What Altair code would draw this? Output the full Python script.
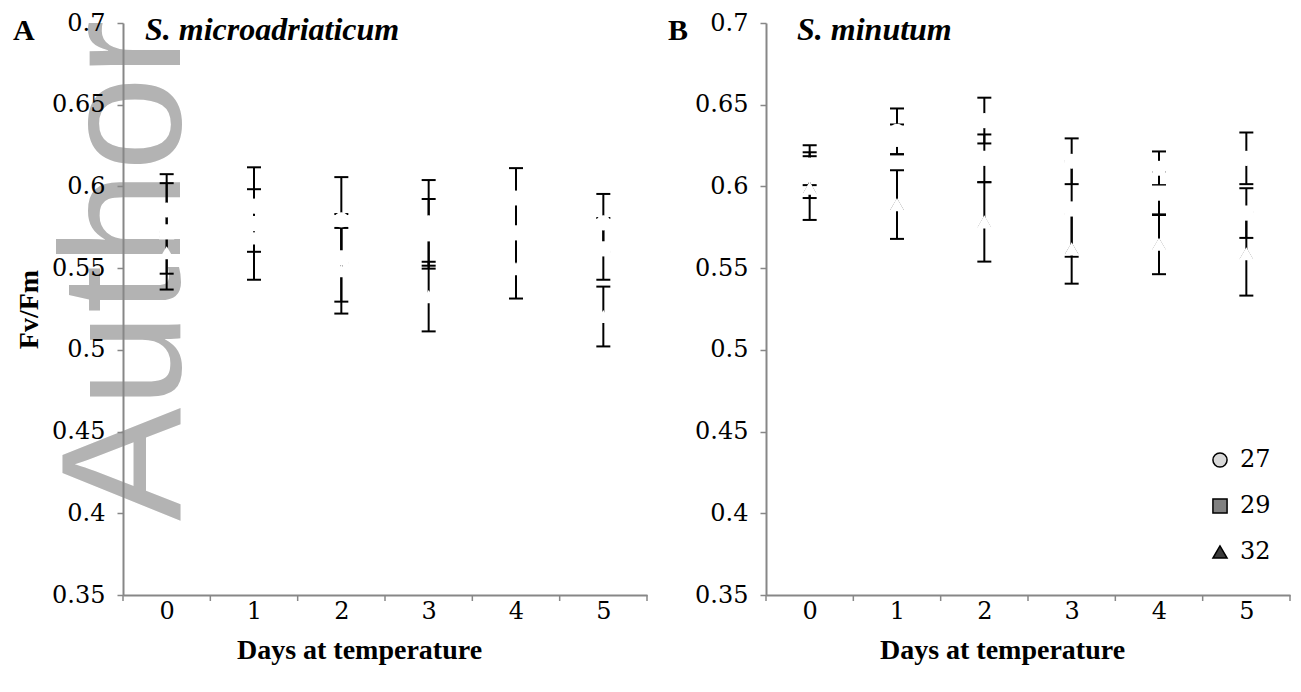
import altair as alt
import pandas as pd

DAYS = [0, 1, 2, 3, 4, 5]
BOUNDS = [-0.5, 0.5, 1.5, 2.5, 3.5, 4.5, 5.5]
Y_TICKS = [0.35, 0.4, 0.45, 0.5, 0.55, 0.6, 0.65, 0.7]
SERIES = ["27", "29", "32"]
SHAPES = ["circle", "square", "triangle-up"]
LEGEND_FILLS = ["#d9d9d9", "#808080", "#3a3a3a"]

# Panel A: S. microadriaticum (mean Fv/Fm and error per day)
A_27 = [0.5856, 0.5880, 0.5795, 0.5777, 0.5929, 0.5777]
A_27_ERR = [0.0164, 0.0103, 0.0262, 0.0262, 0.0183, 0.0177]
A_29 = [0.5722, 0.5773, 0.5563, 0.5710, 0.5716, 0.5618]
A_29_ERR = [0.0353, 0.0344, 0.0268, 0.0213, 0.0024, 0.0189]
A_32 = [0.5594, 0.5685, 0.5484, 0.5326, 0.5497, 0.5204]
A_32_ERR = [0.0128, 0.0085, 0.0262, 0.0213, 0.0183, 0.0183]

# Panel B: S. minutum
B_27 = [0.6130, 0.6337, 0.6403, 0.6154, 0.6111, 0.6172]
B_27_ERR = [0.0122, 0.0140, 0.0140, 0.0140, 0.0103, 0.0158]
B_29 = [0.6069, 0.6288, 0.6172, 0.5862, 0.5959, 0.5837]
B_29_ERR = [0.0140, 0.0091, 0.0146, 0.0292, 0.0134, 0.0152]
B_32 = [0.5990, 0.5889, 0.5783, 0.5618, 0.5646, 0.5588]
B_32_ERR = [0.0195, 0.0210, 0.0243, 0.0213, 0.0183, 0.0256]

W, H = 524, 572
SERIF = "Liberation Serif"
WIDE_SERIF = "DejaVu Serif"
GRAY = "#878787"


def make_df(means, errs):
    rows = []
    for s, shp, m_list, e_list in zip(SERIES, SHAPES, means, errs):
        for d, m, e in zip(DAYS, m_list, e_list):
            rows.append({"day": d, "series": s, "shp": shp, "mean": m,
                         "lo": m - e, "hi": m + e})
    return pd.DataFrame(rows)


def panel(df, letter, letter_x, title, title_x, y_title, watermark, legend):
    xs = alt.Scale(domain=[-0.5, 5.5], nice=False, zero=False)
    ys = alt.Scale(domain=[0.35, 0.7], nice=False, zero=False)
    font_kw = dict(labelFont=WIDE_SERIF, labelFontSize=24,
                   labelColor="black",
                   titleFont=SERIF, titleFontSize=28, titleFontWeight="bold",
                   titleColor="black", domainColor=GRAY, domainWidth=2,
                   tickColor=GRAY, tickWidth=1.5, grid=False, zindex=1)
    x_axis = alt.Axis(values=DAYS, ticks=False, title="Days at temperature",
                      labelPadding=4, titleX=236, titleY=63,
                      titleBaseline="alphabetic", titleAlign="center",
                      **font_kw)
    y_axis_kw = dict(values=Y_TICKS, format="~g", tickSize=6,
                     labelPadding=12, **font_kw)
    if y_title:
        y_axis = alt.Axis(title=y_title, titlePadding=8, **y_axis_kw)
    else:
        y_axis = alt.Axis(title=None, **y_axis_kw)

    def X(f):
        return alt.X(f, scale=xs, axis=x_axis)

    def Y(f):
        return alt.Y(f, scale=ys, axis=y_axis)

    layers = []
    if watermark:
        layers.append(
            alt.Chart(pd.DataFrame({"t": ["Author"]})).mark_text(
                text="Author", font="Liberation Sans", fontSize=170,
                angle=270, align="left", baseline="alphabetic",
                color="#b3b3b3"
            ).encode(x=alt.value(57), y=alt.value(498))
        )

    bdf = pd.DataFrame({"b": BOUNDS})
    layers.append(
        alt.Chart(bdf).mark_rule(color=GRAY, strokeWidth=1.5).encode(
            x=X("b:Q"), y=alt.value(H), y2=alt.value(H + 6)
        )
    )

    base = alt.Chart(df)
    if legend:
        leg = alt.Legend(orient="none", legendX=442, legendY=425,
                         title=None, labelFont=WIDE_SERIF, labelFontSize=24,
                         labelColor="black", symbolSize=200, rowPadding=22,
                         padding=0, labelOffset=8)
        layers.append(
            base.mark_point(filled=False, size=120, stroke="black",
                            strokeWidth=1.5, opacity=1).encode(
                x=X("day:Q"), y=Y("mean:Q"),
                shape=alt.Shape("series:N",
                                scale=alt.Scale(domain=SERIES, range=SHAPES),
                                legend=leg),
                fill=alt.Fill("series:N",
                              scale=alt.Scale(domain=SERIES,
                                              range=LEGEND_FILLS),
                              legend=leg),
            )
        )

    layers.append(
        base.mark_rule(color="black", strokeWidth=2).encode(
            x=X("day:Q"), y=Y("lo:Q"), y2="hi:Q",
        )
    )
    for fld in ["lo", "hi"]:
        layers.append(
            base.mark_rule(color="black", strokeWidth=2, xOffset=-7,
                           x2Offset=7).encode(
                x=X("day:Q"), x2="day:Q", y=Y(f"{fld}:Q"),
            )
        )
    layers.append(
        base.mark_point(filled=True, color="white", size=230, opacity=1,
                        strokeWidth=0).encode(
            x=X("day:Q"), y=Y("mean:Q"),
            shape=alt.Shape("shp:N", scale=None),
        )
    )
    tdf = pd.DataFrame({"t": [title]})
    layers.append(
        alt.Chart(tdf).mark_text(text=title, font=SERIF, fontSize=32,
                                 fontWeight="bold", fontStyle="italic",
                                 align="left", baseline="alphabetic",
                                 color="black").encode(
            x=alt.value(title_x), y=alt.value(17))
    )
    ldf = pd.DataFrame({"t": [letter]})
    layers.append(
        alt.Chart(ldf).mark_text(text=letter, font=SERIF, fontSize=30,
                                 fontWeight="bold", align="left",
                                 baseline="alphabetic",
                                 color="black").encode(
            x=alt.value(letter_x), y=alt.value(17))
    )
    return alt.layer(*layers).properties(width=W, height=H)


dfA = make_df([A_27, A_29, A_32], [A_27_ERR, A_29_ERR, A_32_ERR])
dfB = make_df([B_27, B_29, B_32], [B_27_ERR, B_29_ERR, B_32_ERR])

pA = panel(dfA, "A", -110, "S. microadriaticum", 22, "Fv/Fm", True, False)
pB = panel(dfB, "B", -98, "S. minutum", 31, None, False, True)

chart = alt.hconcat(pA, pB, spacing=119, bounds="flush").properties(
    padding={"left": 5, "top": 3, "right": 0, "bottom": 5}
).resolve_scale(shape="independent", fill="independent").configure(
    font=SERIF
).configure_view(
    stroke=None
)

chart.save("out.html", embed_options={"renderer": "svg", "actions": False})
